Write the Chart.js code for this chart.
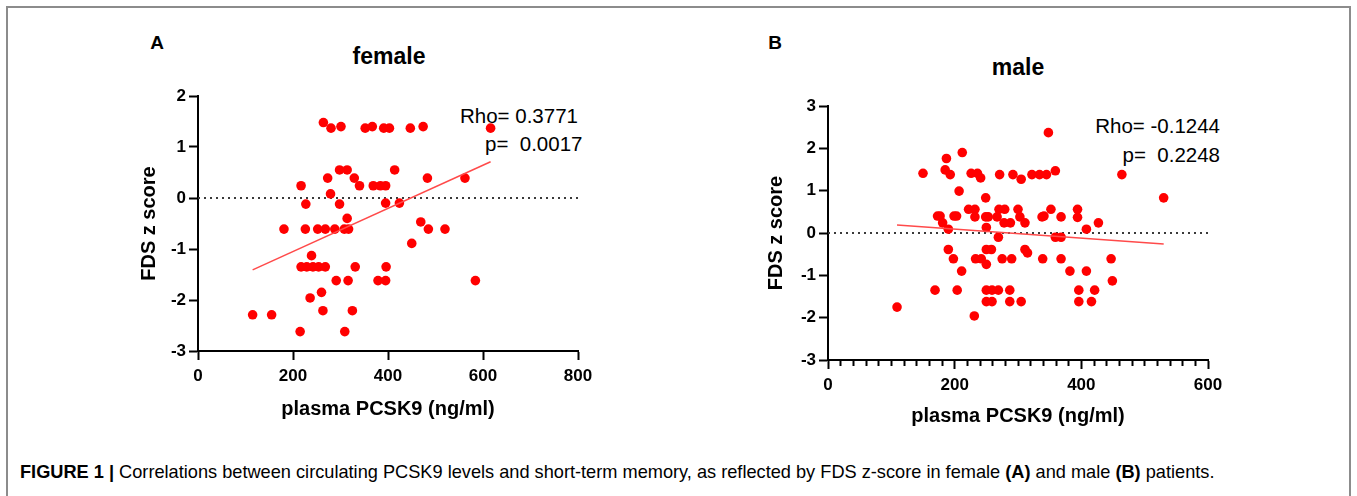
<!DOCTYPE html>
<html>
<head>
<meta charset="utf-8">
<script src="https://cdn.jsdelivr.net/npm/chart.js@4"></script>
<style>
  body { margin:0; background:#fff; width:1357px; height:496px; overflow:hidden; position:relative;
         font-family:"Liberation Sans", Arial, sans-serif; color:#000; }
  .frame { position:absolute; left:6px; top:6px; width:1341px; height:600px; border:2px solid #8c8c8c; }
  .t { position:absolute; white-space:pre; line-height:1; }
  .c { transform:translate(-50%,-50%); }
  .v { transform:translateY(-50%); }
  .b { font-weight:bold; }
  .box { position:absolute; }
</style>
</head>
<body>
<div class="frame"></div>

<div class="t b c" style="left:157px;top:42px;font-size:19px">A</div>
<div class="t b c" style="left:389px;top:56px;font-size:23px">female</div>
<div class="t v" style="left:460px;top:116px;font-size:20.5px">Rho= 0.3771</div>
<div class="t v" style="left:485px;top:144px;font-size:20.5px">p=  0.0017</div>

<div class="t b c" style="left:775px;top:42px;font-size:19px">B</div>
<div class="t b c" style="left:1018px;top:67px;font-size:23px">male</div>
<div class="t v" style="right:137px;top:126px;font-size:20.5px">Rho= -0.1244</div>
<div class="t v" style="right:137px;top:155px;font-size:20.5px">p=  0.2248</div>

<div class="box" style="left:100px;top:20px;width:510px;height:410px"><canvas id="femaleChart"></canvas></div>
<div class="box" style="left:730px;top:30px;width:510px;height:410px"><canvas id="maleChart"></canvas></div>

<div class="t v" style="left:20px;top:472px;font-size:18.2px"><b>FIGURE 1 |</b> Correlations between circulating PCSK9 levels and short-term memory, as reflected by FDS z-score in female <b>(A)</b> and male <b>(B)</b> patients.</div>

<script>
// female panel (A): plasma PCSK9 vs FDS z score
var femaleX = [264,280,301,352,367,391,403,447,474,616,
               298,314,414,273,329,483,562,
               217,340,369,384,395,279,
               227,298,395,424,314,
               181,226,252,268,288,308,317,469,485,520,
               450,239,
               217,229,242,254,268,331,396,
               291,316,379,395,584,
               260,236,115,155,263,325,215,309];
var femaleY = [1.48,1.37,1.40,1.37,1.40,1.37,1.37,1.37,1.40,1.37,
               0.55,0.55,0.55,0.39,0.39,0.39,0.39,
               0.24,0.24,0.24,0.24,0.24,0.08,
               -0.12,-0.12,-0.10,-0.10,-0.40,
               -0.61,-0.61,-0.61,-0.61,-0.61,-0.61,-0.61,-0.47,-0.61,-0.61,
               -0.89,-1.13,
               -1.35,-1.35,-1.35,-1.35,-1.35,-1.35,-1.35,
               -1.62,-1.62,-1.62,-1.62,-1.62,
               -1.85,-1.96,-2.29,-2.29,-2.21,-2.21,-2.62,-2.62];
var femaleFitX = [115, 616];
var femaleFitY = [-1.41, 0.71];

// male panel (B)
var maleX = [348,212,187,150,185,193,226,236,241,271,292,305,322,334,345,359,464,
             207,249,530,
             222,232,270,279,300,352,394,
             173,177,199,203,232,249,253,267,303,338,341,368,394,
             181,278,288,311,427,
             190,250,408,
             269,359,368,
             190,250,258,311,315,
             198,233,242,250,275,290,339,368,447,
             211,382,408,449,
             169,204,250,259,269,287,396,421,
             250,259,287,305,396,416,
             109,231];
var maleY = [2.37,1.90,1.76,1.41,1.49,1.38,1.41,1.41,1.30,1.38,1.38,1.27,1.38,1.38,1.38,1.47,1.38,
             0.99,0.83,0.83,
             0.56,0.56,0.56,0.56,0.56,0.56,0.56,
             0.40,0.40,0.40,0.40,0.38,0.38,0.38,0.38,0.38,0.38,0.40,0.38,0.37,
             0.24,0.24,0.24,0.24,0.24,
             0.09,0.13,0.09,
             -0.10,-0.10,-0.10,
             -0.39,-0.39,-0.39,-0.39,-0.47,
             -0.61,-0.61,-0.61,-0.74,-0.61,-0.61,-0.61,-0.61,-0.61,
             -0.90,-0.90,-0.90,-1.13,
             -1.35,-1.35,-1.35,-1.35,-1.35,-1.35,-1.35,-1.35,
             -1.62,-1.62,-1.62,-1.62,-1.62,-1.62,
             -1.75,-1.96];
var maleFitX = [109, 530];
var maleFitY = [0.19, -0.26];

// axis ranges / tick steps
var femaleXRange = [0, 800], femaleYRange = [-3, 2];
var maleXRange = [0, 600], maleYRange = [-3, 3];
var xLabelStep = 200;

var xTitle = 'plasma PCSK9 (ng/ml)';
var yTitle = 'FDS z score';

function pts(xs, ys) {
  return xs.map(function (x, i) { return { x: x, y: ys[i] }; });
}

function makeChart(id, xs, ys, fitX, fitY, xr, yr, minorStep, yTitlePad, xTitlePad, xAxisH) {
  var tickFont = { family: 'Liberation Sans, Arial', size: 17, weight: 'bold' };
  var titleFont = { family: 'Liberation Sans, Arial', size: 20, weight: 'bold' };
  var cfg = {
    type: 'scatter',
    data: {
      datasets: [
        { // zero reference line
          type: 'line', data: [{ x: xr[0], y: 0 }, { x: xr[1], y: 0 }],
          borderColor: '#3a3a3a', borderWidth: 2, borderDash: [2, 4],
          pointRadius: 0, fill: false, order: 3
        },
        { // regression line
          type: 'line', data: pts(fitX, fitY),
          borderColor: '#ff4a4a', borderWidth: 1.5,
          pointRadius: 0, fill: false, order: 1
        },
        {
          data: pts(xs, ys),
          backgroundColor: '#ff0000', borderColor: '#ff0000', borderWidth: 0,
          pointRadius: 4.8, pointHoverRadius: 4.8, order: 2
        }
      ]
    },
    options: {
      responsive: true, maintainAspectRatio: false, animation: false,
      devicePixelRatio: 1,
      clip: false,
      layout: { padding: { top: 76, right: 32, left: 0, bottom: 0 } },
      plugins: { legend: { display: false }, tooltip: { enabled: false } },
      scales: {
        x: {
          type: 'linear', min: xr[0], max: xr[1],
          border: { color: '#000', width: 2 },
          grid: {
            drawOnChartArea: false, drawTicks: true, tickLength: 9,
            tickWidth: 2, tickColor: '#000',
            tickBorderDash: function (c) {
              return (c.tick && c.tick.value % xLabelStep !== 0) ? [5, 60] : [];
            }
          },
          ticks: {
            stepSize: minorStep, autoSkip: false, maxRotation: 0, color: '#000',
            font: tickFont, padding: 6,
            callback: function (v) { return v % xLabelStep === 0 ? v : ''; }
          },
          title: { display: true, text: xTitle, color: '#000', font: titleFont,
                   padding: { top: 0, bottom: xTitlePad } },
          afterFit: function (s) { s.height = xAxisH; }
        },
        y: {
          min: yr[0], max: yr[1],
          border: { color: '#000', width: 2 },
          grid: { drawOnChartArea: false, tickLength: 9, tickWidth: 2, tickColor: '#000' },
          ticks: { stepSize: 1, color: '#000', font: tickFont, padding: 3 },
          title: { display: true, text: yTitle, color: '#000', font: titleFont,
                   padding: { top: yTitlePad, bottom: 0 } },
          afterFit: function (s) { s.width = 98; }
        }
      }
    }
  };
  return new Chart(document.getElementById(id), cfg);
}

makeChart('femaleChart', femaleX, femaleY, femaleFitX, femaleFitY,
          femaleXRange, femaleYRange, 200, 37, 9, 79);
makeChart('maleChart', maleX, maleY, maleFitX, maleFitY,
          maleXRange, maleYRange, 20, 34, 12, 80);
</script>
</body>
</html>
